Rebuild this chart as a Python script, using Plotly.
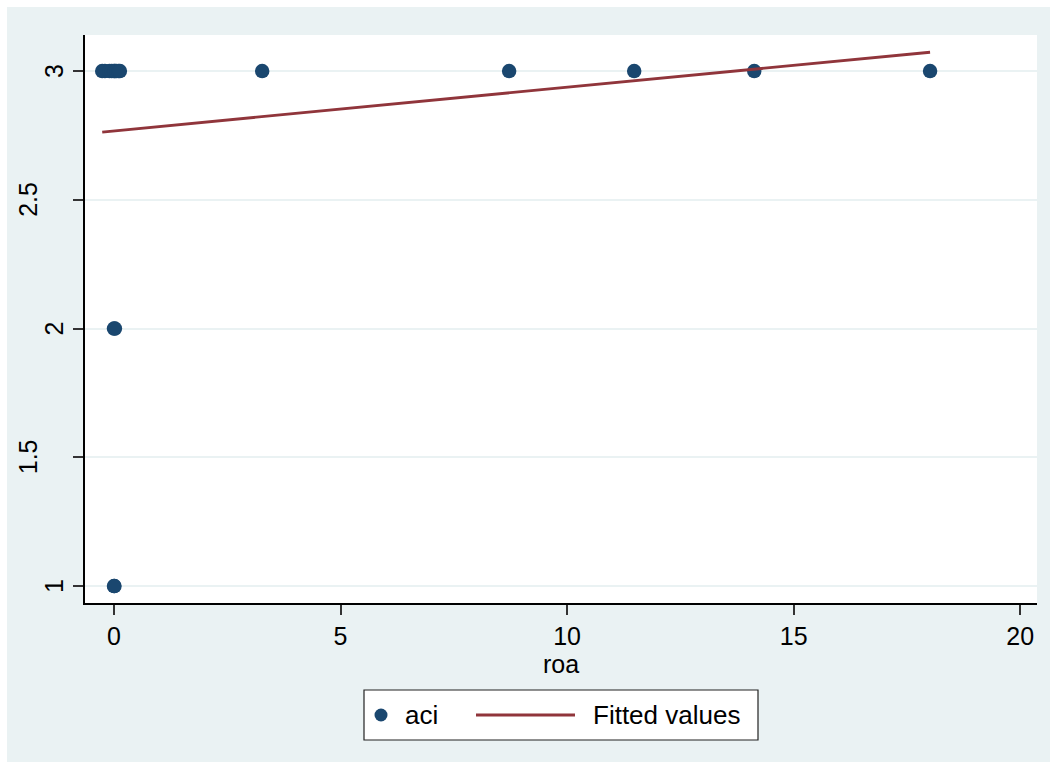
import plotly.graph_objects as go

# aci against roa, with the linear fit
roa = [-0.26, -0.2, -0.1, -0.05, 0.0, 0.02, 0.05, 0.1, 0.13,
       3.27, 8.72, 11.48, 14.13, 18.01,
       0.0, 0.02,
       0.0, 0.01]
aci = [3, 3, 3, 3, 3, 3, 3, 3, 3,
       3, 3, 3, 3, 3,
       2, 2,
       1, 1]

# fitted values at the ends of the roa range
fit_roa = [-0.26, 18.01]
fit_aci = [2.763, 3.073]

x_ticks = [0, 5, 10, 15, 20]
y_ticks = [1, 1.5, 2, 2.5, 3]
y_tick_text = ["1", "1.5", "2", "2.5", "3"]

NAVY = "#1A476F"
MAROON = "#90353B"
BG = "#EAF2F3"
FONT = "Liberation Sans, Arial, sans-serif"

W, H = 1057, 769
L, R, T, B = 85, 20, 35, 166
PW, PH = W - L - R, H - T - B
EDGE = 7


def px(xp):
    return (xp - L) / PW


def py(yp):
    return (H - B - yp) / PH


fig = go.Figure()
fig.add_trace(go.Scatter(
    x=roa, y=aci, mode="markers", name="aci",
    marker=dict(color=NAVY, size=14.5, line=dict(width=0)),
    showlegend=False,
))
fig.add_trace(go.Scatter(
    x=fit_roa, y=fit_aci, mode="lines", name="Fitted values",
    line=dict(color=MAROON, width=2.8),
    showlegend=False,
))

shapes = []
# thin white frame around the graph region
for x0, x1, y0, y1 in [(0, W, 0, EDGE), (0, W, H - EDGE, H),
                       (0, EDGE, 0, H), (W - EDGE, W, 0, H)]:
    shapes.append(dict(type="rect", xref="paper", yref="paper",
                       x0=px(x0), x1=px(x1), y0=py(y1), y1=py(y0),
                       fillcolor="white", line=dict(width=0)))

shapes += [
    # legend box
    dict(type="rect", xref="paper", yref="paper",
         x0=px(364), x1=px(758), y0=py(740), y1=py(690),
         fillcolor="white", line=dict(color="#222222", width=1.2)),
    # legend marker
    dict(type="circle", xref="paper", yref="paper",
         xsizemode="pixel", ysizemode="pixel",
         xanchor=px(381), yanchor=py(715),
         x0=-6.5, x1=6.5, y0=-6.5, y1=6.5,
         fillcolor=NAVY, line=dict(width=0)),
    # legend line
    dict(type="line", xref="paper", yref="paper",
         x0=px(476), x1=px(575), y0=py(715), y1=py(715),
         line=dict(color=MAROON, width=2.8)),
]

annotations = [
    dict(text="aci", xref="paper", yref="paper", x=px(403), y=py(715),
         xanchor="left", yanchor="middle", showarrow=False,
         font=dict(size=26, color="black", family=FONT)),
    dict(text="Fitted values", xref="paper", yref="paper", x=px(591), y=py(715),
         xanchor="left", yanchor="middle", showarrow=False,
         font=dict(size=26, color="black", family=FONT)),
]

# rotated y tick labels, pushed left according to their length
for v, t in zip(y_ticks, y_tick_text):
    annotations.append(dict(
        text=t, xref="paper", yref="y", x=0, y=v,
        xanchor="center", yanchor="middle", textangle=-90,
        xshift=-(18 + 13 * len(t)), showarrow=False,
        font=dict(size=25, color="black", family=FONT),
    ))

fig.update_layout(
    width=W, height=H,
    margin=dict(l=L, r=R, t=T, b=B),
    paper_bgcolor=BG, plot_bgcolor="white",
    font=dict(family=FONT, size=25, color="black"),
    shapes=shapes, annotations=annotations,
    showlegend=False,
)
fig.update_xaxes(
    range=[-0.64, 20.37], tickvals=x_ticks,
    showgrid=False, zeroline=False,
    showline=True, linecolor="black", linewidth=1.5,
    ticks="outside", ticklen=10, tickwidth=1.5, tickcolor="#333333",
    tickfont=dict(size=25, color="black"),
    title=dict(text="roa", font=dict(size=25, color="black"), standoff=4),
)
fig.update_yaxes(
    range=[0.934, 3.14], tickvals=y_ticks, showticklabels=False,
    showgrid=True, gridcolor=BG, gridwidth=2, zeroline=False,
    showline=True, linecolor="black", linewidth=1.5,
    ticks="outside", ticklen=10, tickwidth=1.5, tickcolor="#333333",
)

fig.write_html("out.html")
